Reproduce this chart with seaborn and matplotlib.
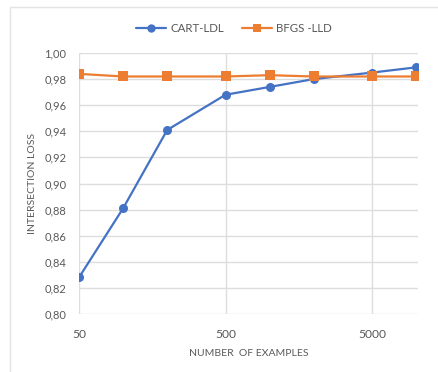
import matplotlib
matplotlib.use("Agg")
import matplotlib.pyplot as plt
from matplotlib.patches import Rectangle
from matplotlib.lines import Line2D
from matplotlib.ticker import FixedLocator, FuncFormatter, NullLocator
import pandas as pd
import seaborn as sns

# Number of training examples
n_examples = [50, 100, 200, 500, 1000, 2000, 5000, 10000]
# Intersection loss for each method
cart_ldl = [0.828, 0.881, 0.941, 0.968, 0.974, 0.980, 0.985, 0.989]
bfgs_lld = [0.984, 0.982, 0.982, 0.982, 0.983, 0.982, 0.982, 0.982]
methods = ["CART-LDL", "BFGS -LLD"]
x_ticks = [50, 500, 5000]
y_ticks = [0.80, 0.82, 0.84, 0.86, 0.88, 0.90, 0.92, 0.94, 0.96, 0.98, 1.00]

df = pd.DataFrame({
    "n": n_examples * 2,
    "loss": cart_ldl + bfgs_lld,
    "method": [methods[0]] * len(n_examples) + [methods[1]] * len(n_examples),
})

sns.set_theme(style="white")
plt.rcParams["font.family"] = ["Lato", "DejaVu Sans"]

text_gray = "#595959"
grid_gray = "#DDDDDD"
blue = "#4472C4"
orange = "#ED7D31"

fig = plt.figure(figsize=(4.38, 3.72), dpi=100)
fig.patch.set_facecolor("white")
# light chart-area border
fig.add_artist(Rectangle((10 / 438, -0.1), 1.2, 1 - 7 / 372 + 0.1,
                         transform=fig.transFigure, fill=False,
                         edgecolor="#E3E3E3", linewidth=1.0))

ax = fig.add_axes([79 / 438, 1 - 314 / 372, (418 - 79) / 438, (314 - 53) / 372])

sns.lineplot(data=df, x="n", y="loss", hue="method", style="method",
             markers={methods[0]: "o", methods[1]: "s"}, dashes=False,
             palette={methods[0]: blue, methods[1]: orange},
             linewidth=1.6, markersize=6.5, markeredgewidth=0, ax=ax,
             legend=False)

ax.set_xscale("log")
ax.set_xlim(50, 10300)
ax.set_ylim(0.80, 1.00)
ax.xaxis.set_major_locator(FixedLocator(x_ticks))
ax.xaxis.set_minor_locator(NullLocator())
ax.xaxis.set_major_formatter(FuncFormatter(lambda v, p: "{:d}".format(int(round(v)))))
ax.yaxis.set_major_locator(FixedLocator(y_ticks))
ax.yaxis.set_major_formatter(FuncFormatter(lambda v, p: "{:.2f}".format(v).replace(".", ",")))

ax.grid(True, which="major", color=grid_gray, linewidth=1.0)
ax.set_axisbelow(True)
for s in ax.spines.values():
    s.set_visible(False)

ax.tick_params(axis="both", length=0, colors=text_gray, labelsize=8)
ax.tick_params(axis="y", pad=9)
ax.tick_params(axis="x", pad=11)
for lab in ax.get_xticklabels():
    lab.set_fontsize(8.7)

ax.set_xlabel("NUMBER  OF EXAMPLES", color=text_gray, fontsize=7.5, labelpad=6)
ax.set_ylabel("INTERSECTION LOSS", color=text_gray, fontsize=7.5, labelpad=5)

# legend above the plot
handles = [
    Line2D([], [], color=blue, marker="o", linewidth=1.6, markersize=6, markeredgewidth=0),
    Line2D([], [], color=orange, marker="s", linewidth=1.6, markersize=6, markeredgewidth=0),
]
leg = fig.legend(handles, methods, loc="center", bbox_to_anchor=(0.535, 1 - 29 / 372),
                 ncol=2, frameon=False, fontsize=8.3, handlelength=2.6,
                 columnspacing=1.5, handletextpad=0.4)
for t in leg.get_texts():
    t.set_color(text_gray)

fig.savefig("out.png", dpi=100)
